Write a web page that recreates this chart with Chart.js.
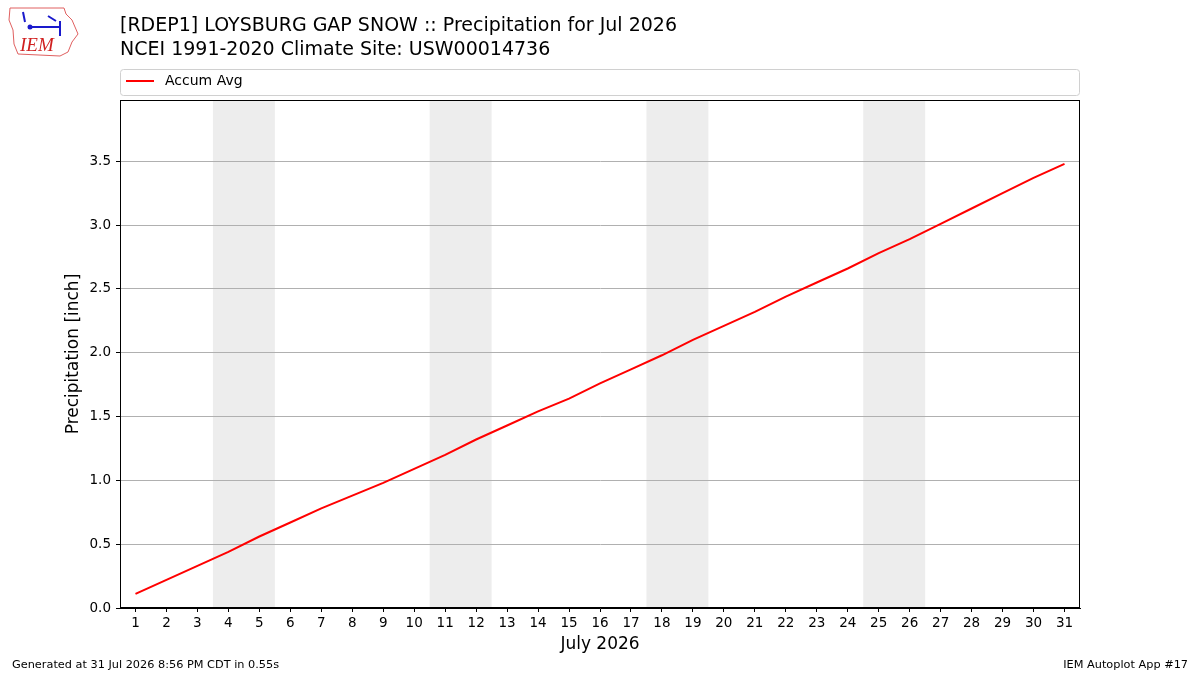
<!DOCTYPE html>
<html>
<head>
<meta charset="utf-8">
<script src="https://cdn.jsdelivr.net/npm/chart.js@4/dist/chart.umd.min.js"></script>
<style>
  html, body { margin: 0; padding: 0; background: #fff; }
  #wrap { width: 1200px; height: 675px; }
</style>
</head>
<body>
<div id="wrap"><canvas id="precipChart" width="1200" height="675"></canvas></div>
<script>
// days of July 2026 and average accumulated precipitation (inch)
var days = [1,2,3,4,5,6,7,8,9,10,11,12,13,14,15,16,17,18,19,20,21,22,23,24,25,26,27,28,29,30,31];
var accumAvg = [0.11,0.22,0.33,0.44,0.56,0.67,0.78,0.88,0.98,1.09,1.20,1.32,1.43,1.54,1.64,1.76,
                1.87,1.98,2.10,2.21,2.32,2.44,2.55,2.66,2.78,2.89,3.01,3.13,3.25,3.37,3.48];
// weekend spans (Sat..Sun)
var weekendStart = [4, 11, 18, 25];
var weekendEnd = [5, 12, 19, 26];
var yTicks = [0, 0.5, 1.0, 1.5, 2.0, 2.5, 3.0, 3.5];

var titleLines = ['[RDEP1] LOYSBURG GAP SNOW :: Precipitation for Jul 2026',
                  'NCEI 1991-2020 Climate Site: USW00014736'];
var footLeft = 'Generated at 31 Jul 2026 8:56 PM CDT in 0.55s';
var footRight = 'IEM Autoplot App #17';

var FONT = "'DejaVu Sans', sans-serif";

var points = days.map(function(d, i) { return { x: d, y: accumAvg[i] }; });

var decor = {
  id: 'decor',
  beforeDraw: function(chart) {
    var c = chart.ctx, a = chart.chartArea, xs = chart.scales.x;
    c.save();
    c.fillStyle = '#fff';
    c.fillRect(0, 0, chart.width, chart.height);
    c.fillStyle = '#ededed';
    for (var i = 0; i < weekendStart.length; i++) {
      var x0 = xs.getPixelForValue(weekendStart[i] - 0.5);
      var x1 = xs.getPixelForValue(weekendEnd[i] + 0.5);
      c.fillRect(x0, a.top, x1 - x0, a.bottom - a.top);
    }
    c.restore();
  },
  afterDraw: function(chart) {
    var c = chart.ctx, a = chart.chartArea;
    c.save();
    // frame
    c.strokeStyle = '#000';
    c.lineWidth = 1;
    c.strokeRect(a.left + 0.5, a.top + 0.5, a.right - a.left - 1, a.bottom - a.top - 1);

    // title
    c.fillStyle = '#000';
    c.font = '19px ' + FONT;
    c.textBaseline = 'alphabetic';
    c.textAlign = 'left';
    c.fillText(titleLines[0], 120, 31);
    c.fillText(titleLines[1], 120, 55);

    // legend
    var ds = chart.data.datasets[0];
    c.strokeStyle = '#d0d0d0';
    c.lineWidth = 1;
    c.beginPath();
    if (c.roundRect) c.roundRect(120.5, 69.5, 959, 26, 3); else c.rect(120.5, 69.5, 959, 26);
    c.stroke();
    c.strokeStyle = ds.borderColor;
    c.lineWidth = 2;
    c.beginPath();
    c.moveTo(126, 81);
    c.lineTo(154, 81);
    c.stroke();
    c.font = '14px ' + FONT;
    c.textBaseline = 'middle';
    c.fillText(ds.label, 165, 81);

    // footer
    c.font = '11.3px ' + FONT;
    c.textBaseline = 'alphabetic';
    c.fillText(footLeft, 12, 668);
    c.textAlign = 'right';
    c.fillText(footRight, 1188, 668);

    // logo: rough state outline + IEM mark
    c.strokeStyle = '#e06060';
    c.lineWidth = 1;
    c.beginPath();
    c.moveTo(10, 8); c.lineTo(64, 8); c.lineTo(66, 14); c.lineTo(72, 20);
    c.lineTo(78, 34); c.lineTo(72, 42); c.lineTo(68, 52); c.lineTo(60, 56);
    c.lineTo(18, 54); c.lineTo(14, 44); c.lineTo(13, 30); c.lineTo(9, 20); c.closePath();
    c.stroke();
    c.strokeStyle = '#1a1acc';
    c.fillStyle = '#1a1acc';
    c.lineWidth = 2;
    c.beginPath();
    c.moveTo(30, 27); c.lineTo(60, 27); c.moveTo(60, 21); c.lineTo(60, 36);
    c.moveTo(23, 12); c.lineTo(25, 22); c.moveTo(48, 16); c.lineTo(56, 21);
    c.stroke();
    c.beginPath(); c.arc(30, 27, 2.5, 0, Math.PI * 2); c.fill();
    c.fillStyle = '#d02020';
    c.font = 'italic 19px "Liberation Serif", serif';
    c.textAlign = 'left';
    c.fillText('IEM', 20, 51);
    c.restore();
  }
};

new Chart(document.getElementById('precipChart'), {
  type: 'line',
  data: {
    datasets: [{
      label: 'Accum Avg',
      data: points,
      borderColor: '#ff0000',
      backgroundColor: '#ff0000',
      borderWidth: 2,
      pointRadius: 0,
      tension: 0,
      fill: false
    }]
  },
  options: {
    responsive: false,
    animation: false,
    devicePixelRatio: 1,
    layout: { padding: { top: 100, right: 120, bottom: 0, left: 0 } },
    plugins: { legend: { display: false }, tooltip: { enabled: false } },
    scales: {
      x: {
        type: 'linear',
        min: 0.5,
        max: 31.5,
        afterBuildTicks: function(scale) {
          scale.ticks = days.map(function(d) { return { value: d }; });
        },
        afterFit: function(scale) { scale.height = 67; },
        grid: { drawOnChartArea: false, tickLength: 4, tickColor: '#000' },
        border: { color: '#000' },
        ticks: { color: '#000', font: { family: FONT, size: 13.5 }, padding: 3, maxRotation: 0, autoSkip: false },
        title: { display: true, text: 'July 2026', color: '#000', font: { family: FONT, size: 17 }, padding: { top: 0, bottom: 20 } }
      },
      y: {
        min: 0,
        max: 3.98,
        afterBuildTicks: function(scale) {
          scale.ticks = yTicks.map(function(v) { return { value: v }; });
        },
        afterFit: function(scale) { scale.width = 120; },
        grid: { color: '#b0b0b0', tickLength: 4, tickColor: '#000', lineWidth: 1 },
        border: { color: '#000' },
        ticks: {
          color: '#000', font: { family: FONT, size: 13.5 }, padding: 5,
          callback: function(v) { return Number(v).toFixed(1); }
        },
        title: { display: true, text: 'Precipitation [inch]', color: '#000', font: { family: FONT, size: 17 }, padding: { top: 63, bottom: 0 } }
      }
    }
  },
  plugins: [decor]
});
</script>
</body>
</html>
